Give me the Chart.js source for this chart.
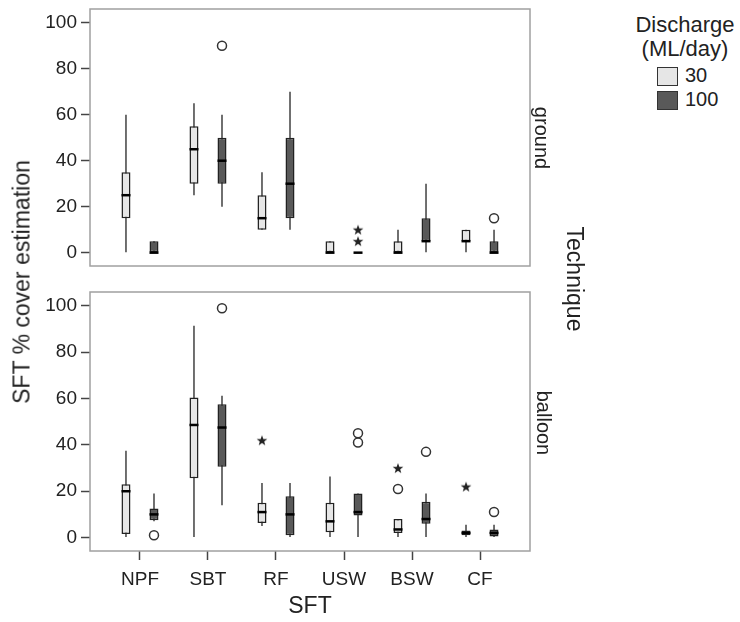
<!DOCTYPE html>
<html>
<head>
<meta charset="utf-8">
<script src="https://cdn.jsdelivr.net/npm/chart.js@4/dist/chart.umd.min.js"></script>
<style>
  body { margin: 0; background: #fff; font-family: "Liberation Sans", Arial, sans-serif; color: #222; }
  #wrap { position: relative; width: 740px; height: 622px; overflow: hidden; }
  canvas { position: absolute; left: 0; }
  .lbl { position: absolute; white-space: nowrap; transform-origin: center; }
  .legend-title { position: absolute; left: 630px; width: 110px; text-align: center; font-size: 22px; line-height: 24px; top: 13px; }
  .legend-item { position: absolute; left: 657px; font-size: 20px; }
  .legend-item span { position: absolute; left: 0; width: 19px; height: 17px; border: 1.5px solid #333; }
  .legend-item b { position: absolute; left: 28px; top: -3px; font-weight: normal; }
</style>
</head>
<body>
<div id="wrap">
  <canvas id="groundChart" width="540" height="280" style="top:0"></canvas>
  <canvas id="balloonChart" width="540" height="342" style="top:280px"></canvas>

  <div class="lbl" id="ytitle" style="font-size:23px;left:22px;top:282px;transform:translate(-50%,-50%) rotate(-90deg)">SFT % cover estimation</div>
  <div class="lbl" style="font-size:20px;left:541px;top:138px;transform:translate(-50%,-50%) rotate(90deg)">ground</div>
  <div class="lbl" style="font-size:20px;left:543px;top:423px;transform:translate(-50%,-50%) rotate(90deg)">balloon</div>
  <div class="lbl" style="font-size:23px;left:574px;top:279px;transform:translate(-50%,-50%) rotate(90deg)">Technique</div>

  <div class="legend-title">Discharge<br>(ML/day)</div>
  <div class="legend-item" style="top:67px"><span style="background:#e6e6e6"></span><b>30</b></div>
  <div class="legend-item" style="top:91px"><span style="background:#595959"></span><b>100</b></div>
</div>

<script>
const categories = ['NPF', 'SBT', 'RF', 'USW', 'BSW', 'CF'];
const yTicks = [0, 20, 40, 60, 80, 100];

// five-number summaries per category: [min, q1, median, q3, max]
const ground30 = [[0, 15, 25, 35, 60], [25, 30, 45, 55, 65], [10, 10, 15, 25, 35], [0, 0, 0, 5, 5], [0, 0, 0, 5, 10], [0, 5, 5, 10, 10]];
const ground100 = [[0, 0, 0, 5, 5], [20, 30, 40, 50, 60], [10, 15, 30, 50, 70], [0, 0, 0, 0, 0], [0, 5, 5, 15, 30], [0, 0, 0, 5, 10]];
const balloon30 = [[0, 1.5, 20, 23, 37.5], [0, 25.6, 48.6, 60.5, 91.4], [5, 6.3, 11, 15, 23.6], [0, 2.3, 7, 15, 26.4], [0, 2, 3.5, 8, 8], [0, 1, 2, 3, 5.5]];
const balloon100 = [[7, 7.5, 10, 12.5, 19], [14, 30.6, 47.5, 57.6, 61.2], [0, 1, 10, 17.8, 23.6], [0, 9.5, 11, 19, 19], [0, 6, 8, 15.5, 19], [0, 0.5, 2, 3.5, 5.5]];

// outliers: [category, discharge, value]
const groundCircles = [['SBT', 100, 90], ['CF', 100, 15]];
const groundStars = [['USW', 100, 5], ['USW', 100, 10]];
const balloonCircles = [['NPF', 100, 1], ['SBT', 100, 99], ['USW', 100, 41], ['USW', 100, 45], ['BSW', 30, 21], ['BSW', 100, 37], ['CF', 100, 11]];
const balloonStars = [['RF', 30, 42], ['BSW', 30, 30], ['CF', 30, 22]];

const shift = 0.206;
const lightFill = '#e6e6e6';
const darkFill = '#595959';
const ink = '#222';

Chart.defaults.font.family = '"Liberation Sans", Arial, sans-serif';
Chart.defaults.color = '#333';

function xFor(cat, discharge) {
    return categories.indexOf(cat) + (discharge === 30 ? -shift : shift);
}

function starImage() {
    const c = document.createElement('canvas');
    c.width = 12;
    c.height = 12;
    const g = c.getContext('2d');
    g.beginPath();
    for (let k = 0; k < 10; k++) {
        const r = k % 2 === 0 ? 5.6 : 2.3;
        const a = -Math.PI / 2 + k * Math.PI / 5;
        g.lineTo(6 + r * Math.cos(a), 6.5 + r * Math.sin(a));
    }
    g.closePath();
    g.fillStyle = ink;
    g.fill();
    return c;
}
const star = starImage();

const medianPlugin = {
    id: 'boxMedians',
    afterDatasetsDraw(chart, args, opts) {
        const ctx = chart.ctx;
        const xs = chart.scales.x, ys = chart.scales.y;
        ctx.save();
        ctx.strokeStyle = '#000';
        ctx.lineWidth = 2.5;
        opts.sets.forEach(set => {
            set.stats.forEach((s, i) => {
                const px = xs.getPixelForValue(i + set.offset);
                const py = ys.getPixelForValue(s[2]);
                ctx.beginPath();
                ctx.moveTo(px - 4.5, py);
                ctx.lineTo(px + 4.5, py);
                ctx.stroke();
            });
        });
        ctx.restore();
    }
};

const framePlugin = {
    id: 'panelFrame',
    afterDraw(chart) {
        const a = chart.chartArea;
        const ctx = chart.ctx;
        ctx.save();
        ctx.strokeStyle = '#a0a0a0';
        ctx.lineWidth = 1.5;
        ctx.strokeRect(a.left, a.top, a.right - a.left, a.bottom - a.top);
        ctx.restore();
    }
};

function buildDatasets(low, high, circles, stars) {
    const sets = [];
    [[low, 30, lightFill], [high, 100, darkFill]].forEach(([stats, d, fill]) => {
        const off = d === 30 ? -shift : shift;
        sets.push({
            type: 'bar',
            data: stats.map((s, i) => ({ x: i + off, y: [s[0], s[4]] })),
            backgroundColor: '#333',
            maxBarThickness: 1.4,
            grouped: false,
            order: 3
        });
        sets.push({
            type: 'bar',
            data: stats.map((s, i) => ({ x: i + off, y: [s[1], s[3]] })),
            backgroundColor: fill,
            borderColor: ink,
            borderWidth: 1.5,
            borderSkipped: false,
            maxBarThickness: 9,
            grouped: false,
            order: 2
        });
    });
    sets.push({
        type: 'scatter',
        data: circles.map(o => ({ x: xFor(o[0], o[1]), y: o[2] })),
        pointStyle: 'circle',
        pointRadius: 4.5,
        borderWidth: 1.5,
        borderColor: '#333',
        backgroundColor: '#fff',
        order: 1
    });
    sets.push({
        type: 'scatter',
        data: stars.map(o => ({ x: xFor(o[0], o[1]), y: o[2] })),
        pointStyle: star,
        order: 1
    });
    return sets;
}

function makeChart(id, low, high, circles, stars, showX) {
    const padding = showX ? { top: 12, right: 10, bottom: 0, left: 0 } : { top: 9, right: 10, bottom: 14, left: 0 };
    return new Chart(document.getElementById(id), {
        type: 'bar',
        data: { datasets: buildDatasets(low, high, circles, stars) },
        options: {
            responsive: false,
            animation: false,
            devicePixelRatio: 1,
            layout: { padding: padding },
            plugins: {
                legend: { display: false },
                tooltip: { enabled: false },
                boxMedians: { sets: [{ stats: low, offset: -shift }, { stats: high, offset: shift }] }
            },
            scales: {
                x: {
                    type: 'linear',
                    display: showX,
                    offset: false,
                    min: -0.735,
                    max: 5.735,
                    afterBuildTicks: s => { s.ticks = categories.map((c, i) => ({ value: i })); },
                    afterFit: s => {
                        s.height = showX ? 71 : 0;
                        s.paddingLeft = 0;
                        s.paddingRight = 0;
                    },
                    border: { display: false },
                    grid: { offset: false, drawOnChartArea: false, drawTicks: true, tickLength: 9, tickColor: '#444', tickWidth: 1.5 },
                    ticks: { autoSkip: false, maxRotation: 0, padding: 8, color: '#222', font: { size: 19 }, callback: v => categories[v] },
                    title: { display: true, text: 'SFT', color: '#222', font: { size: 23 }, padding: { top: 0, bottom: 2 } }
                },
                y: {
                    min: -5.8,
                    max: 106,
                    afterBuildTicks: s => { s.ticks = yTicks.map(v => ({ value: v })); },
                    afterFit: s => {
                        s.width = 90;
                        s.paddingTop = 0;
                        s.paddingBottom = 0;
                    },
                    border: { display: false },
                    grid: { drawOnChartArea: false, drawTicks: true, tickLength: 9, tickColor: '#444', tickWidth: 1.5 },
                    ticks: { padding: 4, color: '#222', font: { size: 19 } }
                }
            }
        },
        plugins: [medianPlugin, framePlugin]
    });
}

makeChart('groundChart', ground30, ground100, groundCircles, groundStars, false);
makeChart('balloonChart', balloon30, balloon100, balloonCircles, balloonStars, true);
</script>
</body>
</html>
